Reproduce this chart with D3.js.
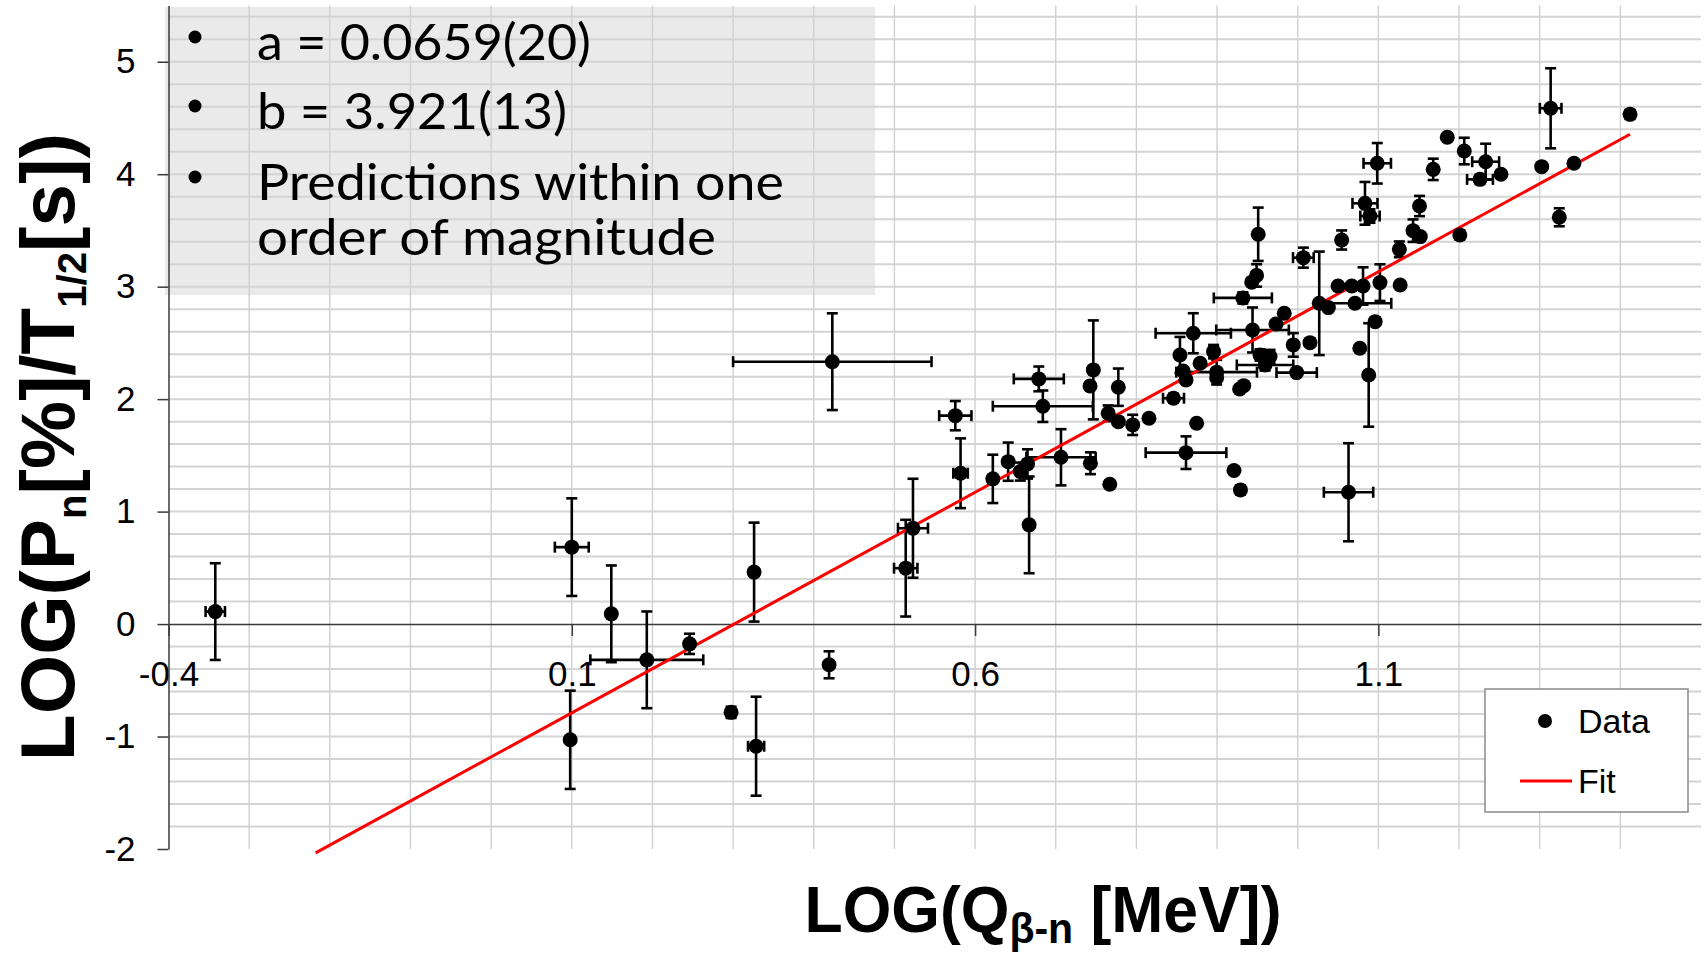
<!DOCTYPE html>
<html>
<head>
<meta charset="utf-8">
<script src="https://cdn.jsdelivr.net/npm/d3@7"></script>
<style>
  body { margin: 0; background: #fff; }
  svg { display: block; }
  text { font-family: "Liberation Sans", Arial, sans-serif; }
</style>
</head>
<body>
<svg width="1706" height="954"></svg>
<script>
/*
 *
 * Data: LOG(Q) on x, LOG(Pn/T1/2) on y,
 * with the half-widths of the error bars (0 = no bar drawn).
 *
 */
var logQ = [
  -0.342, 0.100, 0.149, 0.193, 0.246, 0.326, 0.098, 0.2975, 0.3285, 0.419,
  0.423, 0.514, 0.523, 0.5755, 0.582, 0.622, 0.641, 0.665, 0.656, 0.667,
  0.7065, 0.684, 0.679, 0.7466, 0.7425, 0.7776, 0.765, 0.7776, 0.7954, 0.8156,
  0.743, 0.767, 0.8615, 0.921, 0.929, 0.8747, 0.846, 0.854, 0.858, 0.8615,
  0.8705, 0.879, 0.8957, 0.8995, 0.8995, 0.944, 0.933, 0.928, 0.9533, 0.9657,
  0.9595, 0.973, 0.9833, 0.9945, 0.9987, 1.0152, 0.932, 0.943, 0.949, 0.951,
  1.007, 1.0545, 1.0267, 1.038, 1.050, 1.067, 1.081, 1.071, 1.102, 1.127,
  1.096, 1.077, 1.088, 1.063, 1.126, 1.143, 1.152, 1.151, 1.0834, 1.0896,
  1.3136, 1.412, 1.1854, 1.2065, 1.233, 1.226, 1.252, 1.3025, 1.3425, 1.3243,
  1.201, 1.168, 1.0986
];
var logRate = [
  0.111, 0.684, 0.091, -0.318, -0.176, 0.462, -1.029, -0.785, -1.086, -0.362,
  2.333, 0.497, 0.852, 1.853, 1.341, 1.291, 1.444, 1.424, 1.356, 0.882,
  1.483, 1.937, 2.180, 2.260, 2.117, 2.106, 1.874, 1.800, 1.771, 1.830,
  1.430, 1.243, 1.524, 1.365, 1.193, 1.786, 2.008, 2.393, 2.250, 2.171,
  2.586, 2.319, 2.422, 2.240, 2.190, 2.615, 2.120, 2.090, 2.393, 2.378,
  2.304, 2.668, 2.763, 2.482, 2.236, 2.502, 2.900, 3.040, 3.100, 3.466,
  3.258, 3.415, 2.852, 2.814, 3.006, 3.006, 3.006, 2.852, 3.036, 3.015,
  2.689, 2.452, 2.215, 1.172, 3.332, 3.498, 3.445, 3.717, 3.741, 3.628,
  4.586, 4.532, 4.328, 4.206, 4.111, 3.954, 3.999, 4.067, 4.097, 3.617,
  3.460, 4.043, 4.097
];
var errQ = [
  0.012, 0.021, 0, 0.07, 0, 0, 0, 0, 0.01, 0,
  0.123, 0.0145, 0.0186, 0.02, 0.009, 0, 0, 0, 0, 0,
  0.043, 0.062, 0.031, 0, 0, 0, 0, 0, 0, 0,
  0, 0, 0.05, 0, 0, 0, 0.013, 0, 0, 0,
  0.0467, 0, 0, 0.05, 0, 0.045, 0, 0, 0, 0,
  0.035, 0, 0, 0, 0.025, 0, 0.036, 0, 0, 0,
  0.0128, 0, 0, 0, 0, 0, 0, 0.045, 0, 0,
  0, 0, 0, 0.0306, 0, 0, 0, 0, 0.0155, 0.012,
  0.0134, 0, 0, 0, 0.0167, 0.016, 0, 0, 0, 0,
  0, 0, 0.017
];
var errRate = [
  0.43, 0.434, 0.43, 0.43, 0.09, 0.44, 0.437, 0.05, 0.44, 0.12,
  0.43, 0.43, 0.44, 0.13, 0.31, 0.215, 0.17, 0.13, 0.08, 0.43,
  0.25, 0.14, 0.11, 0.44, 0, 0.166, 0.07, 0, 0.09, 0,
  0.097, 0, 0.145, 0, 0.04, 0, 0.04, 0.16, 0, 0,
  0.178, 0, 0.06, 0.11, 0, 0.2, 0, 0, 0.05, 0.06,
  0.05, 0, 0, 0.105, 0, 0, 0.05, 0, 0.1, 0.237,
  0.089, 0.085, 0.46, 0, 0, 0, 0.166, 0, 0.163, 0,
  0, 0, 0.46, 0.436, 0.07, 0.1, 0, 0.09, 0.19, 0.06,
  0.356, 0.04, 0, 0.118, 0.16, 0.04, 0, 0, 0, 0.08,
  0.04, 0.095, 0.18
];

// fit parameters : LOG(Pn/T) = b * LOG(Q) + LOG(a)
var fitA = 0.0659, fitB = 3.921;
var fitRange = [-0.2176, 1.412];

var xTicks = [-0.4, 0.1, 0.6, 1.1];
var yTicks = [-2, -1, 0, 1, 2, 3, 4, 5];
var notes = ["a = 0.0659(20)", "b = 3.921(13)", "Predictions within one", "order of magnitude"];
var legendLabels = ["Data", "Fit"];

/*
 *
 * Drawing
 *
 */
var svg = d3.select("svg");

var x = d3.scaleLinear().domain([-0.4, 1.5]).range([168.5, 1701]);
var y = d3.scaleLinear().domain([-2, 5.5]).range([849, 5.5]);

// grey note box sits under the grid, its text above it
svg.append("rect")
  .attr("x", 165).attr("y", 7)
  .attr("width", 710).attr("height", 288)
  .attr("fill", "#ebeaea");

// grid
var grid = svg.append("g");
grid.selectAll("line.h")
  .data(d3.range(-9, 28).map(function (i) { return i * 0.2; }).filter(function (v) { return Math.abs(v) > 1e-9; }))
  .enter().append("line")
    .attr("class", "h")
    .attr("x1", x(-0.4)).attr("x2", x(1.5))
    .attr("y1", function (d) { return y(d); })
    .attr("y2", function (d) { return y(d); })
    .attr("stroke", "#d4d4d4").attr("stroke-width", 2);
grid.selectAll("line.v")
  .data(d3.range(-3, 15).map(function (i) { return i / 10; }))
  .enter().append("line")
    .attr("class", "v")
    .attr("y1", y(5.5)).attr("y2", y(-2))
    .attr("x1", function (d) { return x(d); })
    .attr("x2", function (d) { return x(d); })
    .attr("stroke", "#d0d0d0").attr("stroke-width", 1.4);

// notes in the box
var noteText = svg.append("g");
notes.forEach(function (s, i) {
  var base = [60, 129, 200, 255][i];
  var len = [334, 310, 527, 459][i];
  noteText.append("text")
    .attr("x", 257).attr("y", base)
    .attr("textLength", len).attr("lengthAdjust", "spacingAndGlyphs")
    .style("font-family", "Lato, 'Open Sans', sans-serif")
    .style("font-size", "51px")
    .attr("fill", "#000")
    .text(s);
  if (i < 3)
    noteText.append("circle")
      .attr("cx", 195).attr("cy", base - 23).attr("r", 6.5).attr("fill", "#000");
});

// axes
var xAxis = svg.append("g")
  .attr("transform", "translate(0," + y(0) + ")")
  .call(d3.axisBottom(x).tickValues(xTicks).tickSize(12).tickSizeOuter(0).tickPadding(25)
    .tickFormat(function (d) { return String(d); }));
var yAxis = svg.append("g")
  .attr("transform", "translate(" + x(-0.4) + ",0)")
  .call(d3.axisLeft(y).tickValues(yTicks).tickSize(11).tickSizeOuter(0).tickPadding(22)
    .tickFormat(function (d) { return String(d); }));
[xAxis, yAxis].forEach(function (a) {
  a.select(".domain").attr("stroke", "#3a3a3a").attr("stroke-width", 1.5);
  a.selectAll(".tick line").attr("stroke", "#3a3a3a").attr("stroke-width", 1.5);
  a.selectAll(".tick text")
    .attr("fill", "#000")
    .style("font-family", "'Liberation Sans', Arial, sans-serif")
    .style("font-size", "35px");
});

// error bars
var pts = logQ.map(function (q, i) {
  return { q: q, r: logRate[i], eq: errQ[i], er: errRate[i] };
});
var bars = svg.append("g").attr("stroke", "#000").attr("stroke-width", 2.6).attr("fill", "none");
var cap = 5.5;
pts.forEach(function (d) {
  var cx = x(d.q), cy = y(d.r);
  if (d.er > 0) {
    var t = y(d.r + d.er), b = y(d.r - d.er);
    bars.append("line").attr("x1", cx).attr("x2", cx).attr("y1", t).attr("y2", b);
    bars.append("line").attr("x1", cx - cap).attr("x2", cx + cap).attr("y1", t).attr("y2", t);
    bars.append("line").attr("x1", cx - cap).attr("x2", cx + cap).attr("y1", b).attr("y2", b);
  }
  if (d.eq > 0) {
    var l = x(d.q - d.eq), r = x(d.q + d.eq);
    bars.append("line").attr("x1", l).attr("x2", r).attr("y1", cy).attr("y2", cy);
    bars.append("line").attr("x1", l).attr("x2", l).attr("y1", cy - cap).attr("y2", cy + cap);
    bars.append("line").attr("x1", r).attr("x2", r).attr("y1", cy - cap).attr("y2", cy + cap);
  }
});

// fit line
var fitLine = d3.line()
  .x(function (d) { return x(d); })
  .y(function (d) { return y(fitB * d + Math.log10(fitA)); });
svg.append("path")
  .datum(fitRange)
  .attr("d", fitLine)
  .attr("stroke", "#ff0000").attr("stroke-width", 3).attr("fill", "none");

// points
svg.append("g").selectAll("circle")
  .data(pts)
  .enter().append("circle")
    .attr("cx", function (d) { return x(d.q); })
    .attr("cy", function (d) { return y(d.r); })
    .attr("r", 7.5)
    .attr("fill", "#000");

// axis titles, squeezed to the width they have in the figure
function title(g, parts, size, subSize, shift, target) {
  var t = g.append("text")
    .attr("text-anchor", "middle")
    .style("font-weight", "bold")
    .style("font-size", size + "px")
    .attr("fill", "#000");
  var down = false;
  parts.forEach(function (p) {
    var sp = t.append("tspan").text(p[0]);
    if (p[1] && !down) { sp.attr("dy", shift).style("font-size", subSize + "px"); down = true; }
    else if (!p[1] && down) { sp.attr("dy", -shift); down = false; }
  });
  var w = t.node().getComputedTextLength();
  t.attr("transform", "scale(" + (target / w) + ",1)");
}

var xt = svg.append("g").attr("transform", "translate(1043,932)");
title(xt, [["LOG(Q"], ["\u03b2-n", true], [" [MeV])"]], 64, 42, 11, 477);

var yt = svg.append("g").attr("transform", "translate(74,447) rotate(-90)");
title(yt, [["LOG(P"], ["n", true], ["[%]/T"], ["1/2", true], ["[s])"]], 76, 40, 12, 628);

// legend
var legend = svg.append("g");
legend.append("rect")
  .attr("x", 1485).attr("y", 689).attr("width", 203).attr("height", 123)
  .attr("fill", "#fff").attr("stroke", "#8a8a8a").attr("stroke-width", 1.5);
legend.append("circle").attr("cx", 1545).attr("cy", 721).attr("r", 7).attr("fill", "#000");
legend.append("line")
  .attr("x1", 1520).attr("x2", 1572).attr("y1", 781).attr("y2", 781)
  .attr("stroke", "#ff0000").attr("stroke-width", 3);
legend.selectAll("text.lab")
  .data(legendLabels)
  .enter().append("text")
    .attr("class", "lab")
    .attr("x", 1578)
    .attr("y", function (d, i) { return i ? 793 : 733; })
    .style("font-size", "34px")
    .attr("fill", "#000")
    .text(function (d) { return d; });
</script>
</body>
</html>
